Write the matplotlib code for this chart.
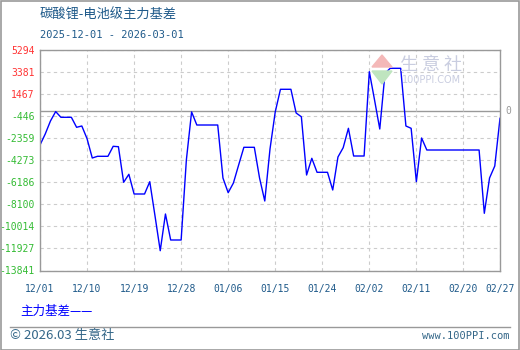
import matplotlib
matplotlib.use('Agg')
import matplotlib.pyplot as plt
from matplotlib.patches import Rectangle, Polygon
from matplotlib.lines import Line2D
import pandas as pd

title = '碳酸锂-电池级主力基差'
subtitle = '2025-12-01 - 2026-03-01'
series_name = '主力基差'
start_date = '2025-12-01'
# daily basis values, 2025-12-01 .. 2026-02-27
basis = [-2950, -1996, -868, -50, -546, -546, -546, -1414, -1301, -2400,
         -4078, -3931, -3931, -3931, -3063, -3098, -6187, -5493, -7202, -7202,
         -7202, -6135, -9100, -12123, -8938, -11194, -11194, -11194, -4252, -80,
         -1215, -1215, -1215, -1215, -1215, -5814, -7089, -6248, -4686, -3150,
         -3150, -3150, -5814, -7810, -3300, -86, 1884, 1884, 1884, -173,
         -500, -5554, -4104, -5319, -5319, -5319, -6855, -3991, -3184, -1501,
         -3905, -3905, -3905, 3411, 955, -1562, 3272, 3706, 3706, 3706,
         -1301, -1501, -6135, -2343, -3384, -3384, -3384, -3384, -3384, -3384,
         -3384, -3384, -3384, -3384, -3384, -8877, -5814, -4772, -633]
ytick_vals = [5294, 3381, 1467, -446, -2359, -4273, -6186, -8100, -10014, -11927, -13841]
xtick_labels = ['12/01', '12/10', '12/19', '12/28', '01/06', '01/15',
                '01/24', '02/02', '02/11', '02/20', '02/27']

dates = pd.date_range(start_date, periods=len(basis), freq='D')

cjk = ['Noto Sans CJK SC', 'DejaVu Sans']
mono = 'DejaVu Sans Mono'
dark = '#1f5a8a'

fig = plt.figure(figsize=(5.2, 3.5), dpi=100)
ax = fig.add_axes([40/520, 1-270.5/350, 460/520, 220.5/350])

ax.plot(dates, basis, color='#0000ff', lw=1.0)
ax.axhline(0, color='#999999', lw=1.0, zorder=1)

ax.set_ylim(min(ytick_vals), max(ytick_vals))
ax.set_xlim(dates[0], dates[-1])
ax.set_yticks(ytick_vals)
ax.set_yticklabels([str(v) for v in ytick_vals], family=mono, fontsize=7)
for lab, v in zip(ax.get_yticklabels(), ytick_vals):
    lab.set_color('#ff3333' if v > 0 else '#33bb33')

xt = list(dates[::9]) + [dates[-1]]
ax.set_xticks(xt)
ax.set_xticklabels(xtick_labels, family=mono, fontsize=7, color=dark)
ax.tick_params(length=0, pad=4)
ax.tick_params(axis='x', pad=10)
ax.grid(True, color='#cccccc', ls=(0, (3, 3)), lw=0.8)
for s in ax.spines.values():
    s.set_color('#999999')
    s.set_linewidth(1.0)

ax.text(1.012, 0, '0', transform=ax.get_yaxis_transform(), color='#999999',
        fontsize=7, family=mono, va='center', ha='left')

# titles
fig.text(40/520, 1-15/350, title, family=cjk, fontsize=9.5, color=dark, va='center')
fig.text(40/520, 1-35/350, subtitle, family=mono, fontsize=7.5, color=dark, va='center')

# legend
fig.text(20/520, 1-311/350, series_name + '——', family=cjk, fontsize=9,
         color='#0000ff', va='center')

# footer
fig.add_artist(Line2D([10/520, 510/520], [1-327/350, 1-327/350], color='#999999', lw=1))
fig.text(10/520, 1-336/350, '© 2026.03 生意社', family=cjk, fontsize=9.5,
         color='#336688', va='center')
fig.text(510/520, 1-336/350, 'www.100PPI.com', family=mono, fontsize=7.5,
         color='#336688', va='center', ha='right')

# watermark
fig.text(431/520, 1-65/350, '生 意 社', family=cjk, fontsize=13, color='#c9cde0',
         ha='center', va='center')
fig.text(432/520, 1-80/350, '100PPI.COM', family='DejaVu Sans', fontsize=7,
         color='#c9cde0', ha='center', va='center')
fig.add_artist(Polygon([[372/520, 1-67/350], [392/520, 1-67/350], [382/520, 1-55/350]],
                       closed=True, color='#f4b8b8', transform=fig.transFigure))
fig.add_artist(Polygon([[372/520, 1-71/350], [392/520, 1-71/350], [382/520, 1-84/350]],
                       closed=True, color='#bfe5bf', transform=fig.transFigure))

# outer border
fig.add_artist(Rectangle((0.5/520, 0.5/350), 518/520, 348.5/350, fill=False,
                         edgecolor='#999999', lw=1.2, transform=fig.transFigure))

fig.savefig('out.png', dpi=100)
